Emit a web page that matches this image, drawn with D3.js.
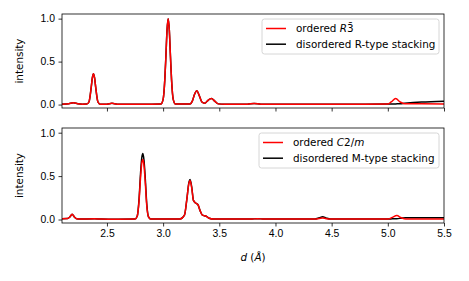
<!DOCTYPE html>
<html>
<head>
<meta charset="utf-8">
<script src="https://cdn.jsdelivr.net/npm/d3@7"></script>
<style>
  body { margin: 0; background: #fff; }
  svg { display: block; font-family: "DejaVu Sans", sans-serif; }
</style>
</head>
<body>
<div id="chart"></div>
<script>
const width = 469;
const height = 281;

// top panel: R-type stacking
const dTop = [2.10, 2.16, 2.20, 2.24, 2.28, 2.32, 2.34, 2.36, 2.37, 2.38, 2.39, 2.40, 2.42, 2.44,
  2.50, 2.545, 2.59, 2.70, 2.90, 2.98, 3.00, 3.015, 3.025, 3.035, 3.045, 3.055, 3.065, 3.075, 3.09, 3.11,
  3.24, 3.26, 3.28, 3.30, 3.32, 3.345, 3.37, 3.40, 3.43, 3.46, 3.49, 3.55, 3.75, 3.81, 3.87,
  4.40, 4.80, 5.00, 5.03, 5.07, 5.11, 5.15, 5.30, 5.50];
const orderedR = [0.005, 0.01, 0.02, 0.01, 0.005, 0.006, 0.03, 0.20, 0.31, 0.36, 0.31, 0.20, 0.03, 0.005,
  0.005, 0.015, 0.005, 0.005, 0.005, 0.006, 0.06, 0.29, 0.57, 0.87, 1.0, 0.87, 0.57, 0.29, 0.06, 0.006,
  0.006, 0.04, 0.12, 0.16, 0.11, 0.03, 0.015, 0.05, 0.07, 0.04, 0.008, 0.005, 0.005, 0.012, 0.005,
  0.005, 0.005, 0.006, 0.03, 0.07, 0.03, 0.01, 0.01, 0.008];
const disorderedR = [0.005, 0.01, 0.02, 0.01, 0.005, 0.006, 0.03, 0.20, 0.31, 0.36, 0.31, 0.20, 0.03, 0.005,
  0.005, 0.015, 0.005, 0.005, 0.005, 0.006, 0.06, 0.29, 0.57, 0.87, 1.0, 0.87, 0.57, 0.29, 0.06, 0.006,
  0.006, 0.04, 0.12, 0.16, 0.11, 0.03, 0.015, 0.05, 0.07, 0.04, 0.008, 0.005, 0.005, 0.012, 0.005,
  0.005, 0.005, 0.006, 0.006, 0.008, 0.01, 0.015, 0.03, 0.04];

// bottom panel: M-type stacking
const dBot = [2.10, 2.15, 2.17, 2.19, 2.21, 2.23, 2.26, 2.39, 2.45, 2.60, 2.75, 2.77, 2.785, 2.80, 2.81,
  2.82, 2.83, 2.84, 2.855, 2.87, 2.89, 3.15, 3.19, 3.21, 3.23, 3.24, 3.255, 3.27, 3.29, 3.31, 3.33,
  3.35, 3.38, 3.41, 3.45, 3.78, 3.84, 3.90, 4.35, 4.39, 4.42, 4.45, 4.49, 5.00, 5.04, 5.08, 5.12, 5.16, 5.50];
const orderedM = [0.01, 0.012, 0.03, 0.06, 0.03, 0.008, 0.005, 0.008, 0.005, 0.004, 0.005, 0.04, 0.20, 0.50, 0.65,
  0.69, 0.62, 0.45, 0.15, 0.03, 0.005, 0.005, 0.05, 0.22, 0.42, 0.45, 0.36, 0.22, 0.19, 0.17, 0.10,
  0.05, 0.04, 0.015, 0.005, 0.005, 0.01, 0.005, 0.005, 0.012, 0.018, 0.01, 0.005, 0.005, 0.025, 0.045, 0.02, 0.006, 0.005];
const disorderedM = [0.01, 0.012, 0.03, 0.06, 0.03, 0.008, 0.005, 0.008, 0.005, 0.004, 0.005, 0.04, 0.22, 0.55, 0.71,
  0.76, 0.68, 0.50, 0.17, 0.03, 0.005, 0.005, 0.05, 0.22, 0.43, 0.46, 0.37, 0.22, 0.19, 0.17, 0.10,
  0.05, 0.04, 0.015, 0.005, 0.005, 0.01, 0.005, 0.005, 0.02, 0.032, 0.018, 0.005, 0.005, 0.008, 0.01, 0.015, 0.02, 0.02];

const xTicks = [2.5, 3.0, 3.5, 4.0, 4.5, 5.0, 5.5];
const yTicks = [0.0, 0.5, 1.0];

const left = 62, right = 444;

const svg = d3.select('#chart')
  .append('svg')
  .attr('width', width)
  .attr('height', height)

const xScale = d3.scaleLinear()
  .domain([2.1, 5.5])
  .range([left, right])

const panels = [
  { top: 14, bottom: 108, d: dTop, ordered: orderedR, disordered: disorderedR,
    legend: { x: 262, y: 19, w: 177, name: 'R', disLabel: 'disordered R-type stacking' }, labels: false },
  { top: 128, bottom: 223, d: dBot, ordered: orderedM, disordered: disorderedM,
    legend: { x: 259, y: 133, w: 180, name: 'C', disLabel: 'disordered M-type stacking' }, labels: true }
];

panels.forEach(p => {
  const yScale = d3.scaleLinear()
    .domain([-0.04, 1.054])
    .range([p.bottom, p.top])

  const g = svg.append('g')

  const line = d3.line()
    .x((d, i) => xScale(p.d[i]))
    .y(d => yScale(d))
    .curve(d3.curveMonotoneX)

  g.append('clipPath').attr('id', 'clip' + p.top)
    .append('rect')
    .attr('x', left).attr('y', p.top)
    .attr('width', right - left).attr('height', p.bottom - p.top)

  g.append('path')
    .attr('d', line(p.disordered))
    .attr('fill', 'none')
    .attr('stroke', '#000')
    .attr('stroke-width', 1.5)
    .attr('clip-path', `url(#clip${p.top})`)

  g.append('path')
    .attr('d', line(p.ordered))
    .attr('fill', 'none')
    .attr('stroke', '#ff0000')
    .attr('stroke-width', 1.5)
    .attr('clip-path', `url(#clip${p.top})`)

  let xAxis = d3.axisBottom(xScale)
    .tickValues(xTicks)
    .tickFormat(p.labels ? d3.format('.1f') : '')
    .tickSize(3.5)
    .tickPadding(3.5)
    .tickSizeOuter(0)

  let yAxis = d3.axisLeft(yScale)
    .tickValues(yTicks)
    .tickFormat(d3.format('.1f'))
    .tickSize(3.5)
    .tickPadding(3.5)
    .tickSizeOuter(0)

  const xa = g.append('g')
    .attr('transform', `translate(0, ${p.bottom})`)
    .call(xAxis)
  const ya = g.append('g')
    .attr('transform', `translate(${left}, 0)`)
    .call(yAxis)

  ;[xa, ya].forEach(a => {
    a.select('.domain').remove()
    a.selectAll('line').attr('stroke', '#000').attr('stroke-width', 0.8)
    a.selectAll('text').attr('fill', '#000').style('font-size', '10.4px')
  })

  // frame
  g.append('rect')
    .attr('x', left).attr('y', p.top)
    .attr('width', right - left).attr('height', p.bottom - p.top)
    .attr('fill', 'none')
    .attr('stroke', '#000')
    .attr('stroke-width', 0.8)

  g.append('text')
    .attr('transform', `translate(20, ${(p.top + p.bottom) / 2}) rotate(-90)`)
    .attr('text-anchor', 'middle')
    .attr('dominant-baseline', 'middle')
    .style('font-size', '10.4px')
    .text('intensity')

  // legend
  const L = p.legend
  const lg = g.append('g')
  lg.append('rect')
    .attr('x', L.x).attr('y', L.y)
    .attr('width', L.w).attr('height', 35)
    .attr('rx', 2.5)
    .attr('fill', 'rgba(255,255,255,0.8)')
    .attr('stroke', '#ccc')
    .attr('stroke-width', 0.8)

  const rows = [{ c: '#ff0000' }, { c: '#000' }]
  rows.forEach((r, i) => {
    const cy = L.y + 9.5 + i * 15.7
    lg.append('line')
      .attr('x1', L.x + 4).attr('x2', L.x + 24)
      .attr('y1', cy).attr('y2', cy)
      .attr('stroke', r.c).attr('stroke-width', 1.5)
    const t = lg.append('text')
      .attr('x', L.x + 34)
      .attr('y', cy)
      .attr('dy', '0.35em')
      .style('font-size', '10.4px')
    if (i === 1) {
      t.text(L.disLabel)
    } else if (L.name === 'R') {
      t.append('tspan').text('ordered ')
      t.append('tspan').style('font-style', 'italic').text('R')
      t.append('tspan').text('3\u0304')
    } else {
      t.append('tspan').text('ordered ')
      t.append('tspan').style('font-style', 'italic').text('C')
      t.append('tspan').text('2/')
      t.append('tspan').style('font-style', 'italic').text('m')
    }
  })
})

// x label
const xl = svg.append('text')
  .attr('x', (left + right) / 2)
  .attr('y', 261)
  .attr('text-anchor', 'middle')
  .style('font-size', '10.4px')
xl.append('tspan').style('font-style', 'italic').text('d')
xl.append('tspan').text(' (')
xl.append('tspan').style('font-style', 'italic').text('Å')
xl.append('tspan').text(')')
</script>
</body>
</html>
